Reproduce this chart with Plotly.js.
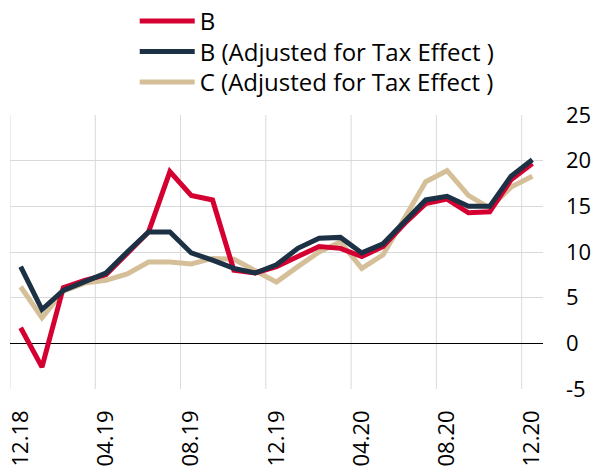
<!DOCTYPE html>
<html>
<head>
<meta charset="utf-8">
<script src="https://cdn.plot.ly/plotly-3.0.1.min.js"></script>
<style>html,body{margin:0;padding:0;background:#fff;}#chart{width:598px;height:468px;}</style>
</head>
<body>
<div id="chart"></div>
<script>
const months = ["12.18","01.19","02.19","03.19","04.19","05.19","06.19","07.19","08.19","09.19","10.19","11.19","12.19","01.20","02.20","03.20","04.20","05.20","06.20","07.20","08.20","09.20","10.20","11.20","12.20"];
const tickLabels = ["12.18","04.19","08.19","12.19","04.20","08.20","12.20"];
const yTickVals = [-5,0,5,10,15,20,25];
const yTickText = ["-5","0","5","10","15","20","25"];
const seriesB = [1.7,-2.6,6.1,6.9,7.5,9.9,12.2,18.8,16.2,15.7,8.0,7.7,8.4,9.5,10.6,10.4,9.5,10.6,13.1,15.3,15.8,14.3,14.4,17.9,19.7];
const seriesBAdj = [8.4,3.7,5.8,6.7,7.7,10.0,12.2,12.2,9.9,9.1,8.2,7.7,8.6,10.4,11.5,11.6,9.9,10.9,13.3,15.7,16.1,15.0,15.0,18.3,20.1];
const seriesCAdj = [6.2,2.8,5.7,6.6,6.9,7.6,8.9,8.9,8.7,9.3,9.2,8.0,6.7,8.4,10.0,11.1,8.2,9.7,13.7,17.7,18.9,16.2,14.8,17.1,18.3];
const names = ["B","B (Adjusted for Tax Effect )","C (Adjusted for Tax Effect )"];
const colors = ["#d50032","#1c3144","#d5bf98"];
const FONT = "Open Sans";

const idx = months.map((m,i)=>i);
const data = [seriesB, seriesBAdj, seriesCAdj].map((s,k)=>({
  x: idx, y: s, type:"scatter", mode:"lines", name: names[k],
  line:{color: colors[k], width:5}, hoverinfo:"skip", legendrank: k+1
}));
const ordered = [data[2], data[0], data[1]];

const tickvals = tickLabels.map(t=>months.indexOf(t));
const gridLines = [];
for (let i=0;i<months.length;i+=4) gridLines.push(i-0.5);

const layout = {
  width:598, height:468,
  margin:{l:10, r:55, t:115, b:79, autoexpand:false},
  paper_bgcolor:"#fff", plot_bgcolor:"#fff",
  font:{family:FONT, size:22, color:"#000"},
  showlegend:true,
  legend:{x:0.234, y:1.424, xanchor:"left", yanchor:"top", orientation:"v",
          font:{family:FONT, size:24, color:"#000"}, tracegroupgap:0,
          bgcolor:"rgba(0,0,0,0)", traceorder:"normal"},
  xaxis:{range:[-0.5,24.5], tickmode:"array", tickvals:tickvals, ticktext:tickLabels,
         tickangle:-90, showgrid:false, zeroline:false, showline:false, ticks:"",
         ticklabelstandoff:16, tickfont:{family:FONT, size:22, color:"#000"},
         fixedrange:true, automargin:false},
  yaxis:{range:[-5,25], tickmode:"array", tickvals:yTickVals, ticktext:yTickText,
         side:"right", showgrid:true, gridcolor:"#d9d9d9", gridwidth:1,
         zeroline:true, zerolinecolor:"#000", zerolinewidth:1, showline:false, ticks:"",
         ticklabelstandoff:22, tickfont:{family:FONT, size:22, color:"#000"},
         fixedrange:true, automargin:false},
  shapes: gridLines.map(g=>({type:"line", xref:"x", yref:"paper", x0:g, x1:g, y0:0, y1:1,
          line:{color:"#d9d9d9", width:1}, layer:"below"}))
};
Plotly.newPlot("chart", ordered, layout, {displayModeBar:false, staticPlot:true}).then(gd=>{
  gd.querySelectorAll(".legend [clip-path]").forEach(el=>el.removeAttribute("clip-path"));
  gd.querySelectorAll(".legend").forEach(el=>el.removeAttribute("clip-path"));
  const trs = Array.from(gd.querySelectorAll(".legend .traces"));
  let y0 = null;
  trs.forEach((tr,i)=>{
    const m = /translate\(\s*([-\d.]+)[ ,]+([-\d.]+)/.exec(tr.getAttribute("transform")||"");
    if (m) {
      if (y0 === null) { y0 = parseFloat(m[2]); }
      tr.setAttribute("transform", "translate(" + parseFloat(m[1]) + "," + (y0 + 30.5*i) + ")");
    }
    const p = tr.querySelector("path.js-line");
    if (p) p.setAttribute("d","M5,0h55");
    const t = tr.querySelector("text.legendtext");
    if (t) t.setAttribute("x", 65);
  });
});
</script>
</body>
</html>
